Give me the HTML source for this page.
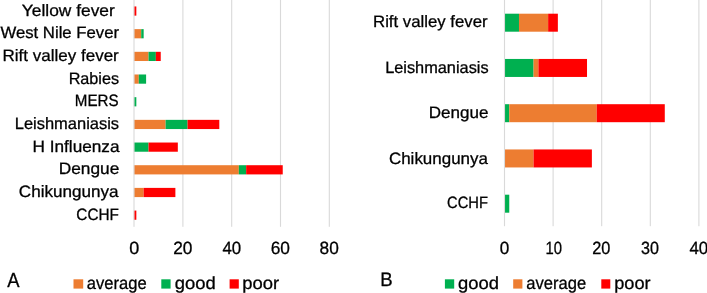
<!DOCTYPE html>
<html><head><meta charset="utf-8"><title>chart</title>
<style>html,body{margin:0;padding:0;background:#fff;}body{width:707px;height:293px;overflow:hidden;}svg{display:block;}text{font-family:"Liberation Sans",sans-serif;fill:#000;}</style></head><body>
<svg width="707" height="293" viewBox="0 0 707 293">
<rect x="0" y="0" width="707" height="293" fill="#fff"/>
<rect x="182.35" y="0" width="1.1" height="226.8" fill="#D9D9D9"/>
<rect x="231.15" y="0" width="1.1" height="226.8" fill="#D9D9D9"/>
<rect x="279.95" y="0" width="1.1" height="226.8" fill="#D9D9D9"/>
<rect x="328.75" y="0" width="1.1" height="226.8" fill="#D9D9D9"/>
<rect x="133.90" y="6.45" width="2.44" height="9.2" fill="#FF0000"/>
<rect x="133.90" y="29.13" width="7.32" height="9.2" fill="#ED7D31"/>
<rect x="141.22" y="29.13" width="2.44" height="9.2" fill="#00B050"/>
<rect x="133.90" y="51.81" width="14.64" height="9.2" fill="#ED7D31"/>
<rect x="148.54" y="51.81" width="7.32" height="9.2" fill="#00B050"/>
<rect x="155.86" y="51.81" width="4.88" height="9.2" fill="#FF0000"/>
<rect x="133.90" y="74.49" width="4.88" height="9.2" fill="#ED7D31"/>
<rect x="138.78" y="74.49" width="7.32" height="9.2" fill="#00B050"/>
<rect x="133.90" y="97.17" width="2.44" height="9.2" fill="#00B050"/>
<rect x="133.90" y="119.85" width="31.72" height="9.2" fill="#ED7D31"/>
<rect x="165.62" y="119.85" width="21.96" height="9.2" fill="#00B050"/>
<rect x="187.58" y="119.85" width="31.72" height="9.2" fill="#FF0000"/>
<rect x="133.90" y="142.53" width="14.64" height="9.2" fill="#00B050"/>
<rect x="148.54" y="142.53" width="29.28" height="9.2" fill="#FF0000"/>
<rect x="133.90" y="165.21" width="104.92" height="9.2" fill="#ED7D31"/>
<rect x="238.82" y="165.21" width="7.32" height="9.2" fill="#00B050"/>
<rect x="246.14" y="165.21" width="36.60" height="9.2" fill="#FF0000"/>
<rect x="133.90" y="187.89" width="9.76" height="9.2" fill="#ED7D31"/>
<rect x="143.66" y="187.89" width="31.72" height="9.2" fill="#FF0000"/>
<rect x="133.90" y="210.57" width="2.44" height="9.2" fill="#FF0000"/>
<rect x="133.45" y="0" width="1.1" height="226.8" fill="#D9D9D9"/>
<rect x="552.55" y="0" width="1.1" height="226.2" fill="#D9D9D9"/>
<rect x="601.15" y="0" width="1.1" height="226.2" fill="#D9D9D9"/>
<rect x="649.75" y="0" width="1.1" height="226.2" fill="#D9D9D9"/>
<rect x="698.35" y="0" width="1.1" height="226.2" fill="#D9D9D9"/>
<rect x="504.40" y="13.70" width="14.58" height="18" fill="#00B050"/>
<rect x="518.98" y="13.70" width="29.16" height="18" fill="#ED7D31"/>
<rect x="548.14" y="13.70" width="9.72" height="18" fill="#FF0000"/>
<rect x="504.40" y="58.95" width="29.16" height="18" fill="#00B050"/>
<rect x="533.56" y="58.95" width="4.86" height="18" fill="#ED7D31"/>
<rect x="538.42" y="58.95" width="48.60" height="18" fill="#FF0000"/>
<rect x="504.40" y="104.20" width="4.86" height="18" fill="#00B050"/>
<rect x="509.26" y="104.20" width="87.48" height="18" fill="#ED7D31"/>
<rect x="596.74" y="104.20" width="68.04" height="18" fill="#FF0000"/>
<rect x="504.40" y="149.45" width="29.16" height="18" fill="#ED7D31"/>
<rect x="533.56" y="149.45" width="58.32" height="18" fill="#FF0000"/>
<rect x="504.40" y="194.70" width="4.86" height="18" fill="#00B050"/>
<rect x="503.95" y="0" width="1.1" height="226.2" fill="#D9D9D9"/>
<rect x="73.50" y="279.3" width="9.70" height="9.3" fill="#ED7D31"/>
<rect x="161.30" y="279.3" width="9.30" height="9.3" fill="#00B050"/>
<rect x="229.60" y="279.3" width="9.20" height="9.3" fill="#FF0000"/>
<rect x="444.90" y="279.3" width="9.30" height="9.3" fill="#00B050"/>
<rect x="513.20" y="279.3" width="9.20" height="9.3" fill="#ED7D31"/>
<rect x="601.30" y="279.3" width="9.00" height="9.3" fill="#FF0000"/>
<g style="filter:grayscale(1)" text-rendering="geometricPrecision" stroke="#000" stroke-width="0.3" stroke-linejoin="round">
<text id="L0" x="21.82" y="16.00" font-size="16.50" textLength="92.97" lengthAdjust="spacingAndGlyphs">Yellow fever</text>
<text id="L1" x="0.43" y="38.00" font-size="16.50" textLength="118.65" lengthAdjust="spacingAndGlyphs">West Nile Fever</text>
<text id="L2" x="2.50" y="61.00" font-size="16.50" textLength="116.28" lengthAdjust="spacingAndGlyphs">Rift valley fever</text>
<text id="L3" x="68.67" y="84.00" font-size="16.50" textLength="50.41" lengthAdjust="spacingAndGlyphs">Rabies</text>
<text id="L4" x="74.86" y="106.00" font-size="16.50" textLength="43.74" lengthAdjust="spacingAndGlyphs">MERS</text>
<text id="L5" x="14.75" y="129.00" font-size="16.50" textLength="104.35" lengthAdjust="spacingAndGlyphs">Leishmaniasis</text>
<text id="L6" x="32.59" y="152.00" font-size="16.50" textLength="86.94" lengthAdjust="spacingAndGlyphs">H Influenza</text>
<text id="L7" x="58.68" y="174.00" font-size="16.50" textLength="60.59" lengthAdjust="spacingAndGlyphs">Dengue</text>
<text id="L8" x="18.83" y="197.00" font-size="16.50" textLength="99.69" lengthAdjust="spacingAndGlyphs">Chikungunya</text>
<text id="L9" x="76.32" y="220.00" font-size="16.50" textLength="42.59" lengthAdjust="spacingAndGlyphs">CCHF</text>
<text id="R0" x="373.02" y="27.00" font-size="16.50" textLength="114.65" lengthAdjust="spacingAndGlyphs">Rift valley fever</text>
<text id="R1" x="385.16" y="73.00" font-size="16.50" textLength="103.43" lengthAdjust="spacingAndGlyphs">Leishmaniasis</text>
<text id="R2" x="428.80" y="118.00" font-size="16.50" textLength="59.65" lengthAdjust="spacingAndGlyphs">Dengue</text>
<text id="R3" x="388.94" y="164.00" font-size="16.50" textLength="98.98" lengthAdjust="spacingAndGlyphs">Chikungunya</text>
<text id="R4" x="447.05" y="208.00" font-size="16.50" textLength="40.84" lengthAdjust="spacingAndGlyphs">CCHF</text>
<text id="XL0" x="129.30" y="253.80" font-size="17.75" textLength="10.01" lengthAdjust="spacingAndGlyphs">0</text>
<text id="XL20" x="173.13" y="253.80" font-size="17.75" textLength="19.25" lengthAdjust="spacingAndGlyphs">20</text>
<text id="XL40" x="222.41" y="253.80" font-size="17.75" textLength="18.75" lengthAdjust="spacingAndGlyphs">40</text>
<text id="XL60" x="270.72" y="253.80" font-size="17.75" textLength="19.26" lengthAdjust="spacingAndGlyphs">60</text>
<text id="XL80" x="319.55" y="253.80" font-size="17.75" textLength="19.23" lengthAdjust="spacingAndGlyphs">80</text>
<text id="XR0" x="499.83" y="253.80" font-size="17.75" textLength="9.54" lengthAdjust="spacingAndGlyphs">0</text>
<text id="XR10" x="545.47" y="253.80" font-size="17.75" textLength="16.51" lengthAdjust="spacingAndGlyphs">10</text>
<text id="XR20" x="592.28" y="253.80" font-size="17.75" textLength="18.16" lengthAdjust="spacingAndGlyphs">20</text>
<text id="XR30" x="640.99" y="253.80" font-size="17.75" textLength="17.94" lengthAdjust="spacingAndGlyphs">30</text>
<text id="XR40" x="689.41" y="253.80" font-size="17.75" textLength="18.75" lengthAdjust="spacingAndGlyphs">40</text>
<text id="LLa" x="86.70" y="288.60" font-size="17.50" textLength="59.94" lengthAdjust="spacingAndGlyphs">average</text>
<text id="LLg" x="174.73" y="288.60" font-size="17.50" textLength="40.96" lengthAdjust="spacingAndGlyphs">good</text>
<text id="LLp" x="242.21" y="288.60" font-size="17.50" textLength="36.89" lengthAdjust="spacingAndGlyphs">poor</text>
<text id="RLg" x="458.03" y="288.60" font-size="17.50" textLength="40.96" lengthAdjust="spacingAndGlyphs">good</text>
<text id="RLa" x="526.30" y="288.60" font-size="17.50" textLength="59.84" lengthAdjust="spacingAndGlyphs">average</text>
<text id="RLp" x="614.23" y="288.60" font-size="17.50" textLength="36.37" lengthAdjust="spacingAndGlyphs">poor</text>
<text id="A" x="7.16" y="287.00" font-size="20.50" textLength="12.27" lengthAdjust="spacingAndGlyphs">A</text>
<text id="B" x="380.17" y="286.20" font-size="19.50" textLength="12.41" lengthAdjust="spacingAndGlyphs">B</text>
</g>
</svg></body></html>
